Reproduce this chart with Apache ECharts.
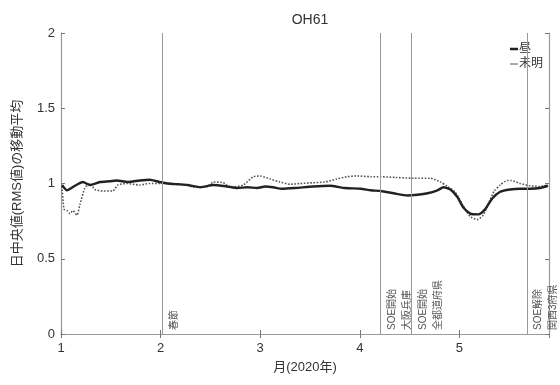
<!DOCTYPE html>
<html>
<head>
<meta charset="utf-8">
<script src="https://cdn.jsdelivr.net/npm/echarts@6/dist/echarts.min.js"></script>
<style>
  html, body { margin: 0; padding: 0; background: #fff; }
  #chart { width: 560px; height: 385px; }
</style>
</head>
<body>
<div id="chart"></div>
<script>
// 昼 (daytime) moving average, x in months of 2020
const dayMonths = [1.01, 1.06, 1.14, 1.22, 1.29, 1.39, 1.49, 1.56, 1.67, 1.79, 1.89, 1.99,
  2.07, 2.17, 2.27, 2.40, 2.53, 2.67, 2.77, 2.87, 2.97, 3.05, 3.13, 3.22, 3.35, 3.53,
  3.70, 3.85, 4.01, 4.11, 4.21, 4.34, 4.48, 4.58, 4.68, 4.78, 4.84, 4.91, 4.98, 5.04,
  5.11, 5.19, 5.26, 5.33, 5.41, 5.51, 5.61, 5.71, 5.81, 5.89]
const dayValues = [0.99, 0.955, 0.985, 1.01, 0.99, 1.01, 1.015, 1.02, 1.01, 1.02, 1.025, 1.01,
  1.0, 0.995, 0.99, 0.975, 0.99, 0.98, 0.97, 0.975, 0.97, 0.98, 0.975, 0.965, 0.97, 0.98,
  0.985, 0.97, 0.965, 0.955, 0.95, 0.935, 0.92, 0.925, 0.935, 0.955, 0.975, 0.96, 0.91, 0.84,
  0.80, 0.795, 0.83, 0.90, 0.945, 0.96, 0.965, 0.965, 0.97, 0.985]

// 未明 (pre-dawn) moving average
const dawnMonths = [1.01, 1.03, 1.06, 1.09, 1.12, 1.16, 1.19, 1.24, 1.29, 1.34, 1.42, 1.52,
  1.57, 1.66, 1.79, 1.89, 1.99, 2.10, 2.27, 2.33, 2.47, 2.53, 2.63, 2.70, 2.83, 2.93,
  3.00, 3.10, 3.20, 3.30, 3.40, 3.53, 3.65, 3.77, 3.87, 3.97, 4.11, 4.21, 4.36, 4.54,
  4.71, 4.81, 4.88, 4.96, 5.04, 5.11, 5.18, 5.24, 5.30, 5.35, 5.41, 5.48, 5.52, 5.61,
  5.71, 5.81, 5.89]
const dawnValues = [0.98, 0.83, 0.82, 0.80, 0.82, 0.79, 0.86, 0.97, 1.0, 0.96, 0.95, 0.95,
  0.99, 1.0, 0.99, 1.0, 1.0, 1.0, 0.99, 0.975, 0.98, 1.01, 1.005, 0.975, 0.99, 1.045,
  1.05, 1.03, 1.01, 0.995, 1.0, 1.005, 1.01, 1.03, 1.045, 1.05, 1.045, 1.045, 1.04, 1.035,
  1.035, 1.01, 0.98, 0.94, 0.85, 0.78, 0.76, 0.79, 0.88, 0.95, 0.99, 1.02, 1.02, 1.0,
  0.985, 0.98, 0.99]

// event lines and their labels
const eventMonths = [2.02, 4.21, 4.52, 5.68]
const eventLabels = ['春節', 'SOE開始\n大阪兵庫', 'SOE開始\n全都道府県', 'SOE解除\n関西3府県']

const xTicks = [1, 2, 3, 4, 5]
const yTicks = [0, 0.5, 1, 1.5, 2]

const font = '"Liberation Sans", "Noto Sans CJK JP", sans-serif'
const frameColor = '#9a9a9a'

// legend glyphs: short horizontal strokes (faint corner slivers keep the box size)
const thickStroke = 'path://M0,0h10v0.01h-10z M0,3.5h10v3h-10z M0,9.99h10v0.01h-10z'
const thinStroke = 'path://M0,0h10v0.01h-10z M0,4.4h10v1.2h-10z M0,9.99h10v0.01h-10z'

const chart = echarts.init(document.getElementById('chart'))

function pairs(xs, ys) {
  return xs.map((x, i) => [x, ys[i]])
}

const baseX = {
  type: 'value',
  min: 1,
  max: 5.9,
  interval: 1,
  splitLine: { show: false },
  axisLine: { lineStyle: { color: frameColor, width: 1.2 } },
  axisTick: { inside: true, length: 4, lineStyle: { color: '#777' } }
}
const baseY = {
  type: 'value',
  min: 0,
  max: 2,
  interval: 0.5,
  splitLine: { show: false },
  axisLine: { lineStyle: { color: frameColor, width: 1.2 } },
  axisTick: { inside: true, length: 4, lineStyle: { color: '#777' } }
}

chart.setOption({
  backgroundColor: '#fff',
  animation: false,
  textStyle: { fontFamily: font },
  title: {
    text: 'OH61',
    left: 305,
    textAlign: 'center',
    top: 8,
    textStyle: { fontSize: 14, fontWeight: 'normal', color: '#333', fontFamily: font }
  },
  legend: {
    data: [
      { name: '昼', icon: thickStroke },
      { name: '未明', icon: thinStroke }
    ],
    orient: 'vertical',
    right: 12,
    top: 38,
    itemWidth: 8,
    itemHeight: 10,
    itemGap: 3,
    textStyle: { fontSize: 12, color: '#333', padding: [0, 0, 0, -4] }
  },
  grid: { left: 61, right: 11, top: 33, bottom: 51 },
  xAxis: [
    Object.assign({}, baseX, {
      position: 'bottom',
      name: '月(2020年)',
      nameLocation: 'middle',
      nameGap: 27,
      nameTextStyle: { fontSize: 13, color: '#333' },
      axisLabel: {
        fontSize: 13,
        color: '#333',
        margin: 8,
        showMaxLabel: false,
        formatter: v => (xTicks.includes(v) ? String(v) : '')
      }
    }),
    Object.assign({}, baseX, { position: 'top', axisLabel: { show: false } })
  ],
  yAxis: [
    Object.assign({}, baseY, {
      position: 'left',
      name: '日中央値(RMS値)の移動平均',
      nameLocation: 'middle',
      nameGap: 37,
      nameTextStyle: { fontSize: 13, color: '#333' },
      axisLabel: {
        fontSize: 13,
        color: '#333',
        margin: 6,
        formatter: v => (yTicks.includes(v) ? String(v) : '')
      }
    }),
    Object.assign({}, baseY, { position: 'right', axisLabel: { show: false } })
  ],
  series: [
    {
      name: '未明',
      type: 'line',
      data: pairs(dawnMonths, dawnValues),
      showSymbol: false,
      symbol: 'none',
      smooth: 0.2,
      lineStyle: { color: '#555', width: 1.6, type: 'dotted' },
      itemStyle: { color: '#555' },
      markLine: {
        silent: true,
        symbol: 'none',
        lineStyle: { color: '#999', width: 1, type: 'solid' },
        label: {
          position: 'insideStartBottom',
          distance: 4,
          fontSize: 10,
          lineHeight: 15,
          color: '#555',
          fontFamily: font
        },
        data: eventMonths.map((m, i) => ({
          xAxis: m,
          label: { formatter: eventLabels[i] }
        }))
      }
    },
    {
      name: '昼',
      type: 'line',
      data: pairs(dayMonths, dayValues),
      showSymbol: false,
      symbol: 'none',
      smooth: 0.2,
      lineStyle: { color: '#222', width: 2.4 },
      itemStyle: { color: '#222' }
    }
  ]
})

window.addEventListener('resize', () => chart.resize())
</script>
</body>
</html>
